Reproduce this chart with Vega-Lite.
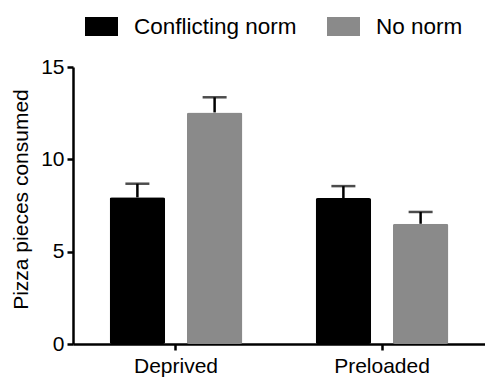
{
  "$schema": "https://vega.github.io/schema/vega-lite/v6.json",
  "autosize": {"type": "none"},
  "padding": {"left": 73, "top": 67, "right": 0, "bottom": 33},
  "width": 412,
  "height": 277,
  "background": "white",
  "config": {
    "view": {"stroke": null},
    "font": "Liberation Sans",
    "axis": {"labelFont": "Liberation Sans", "titleFont": "Liberation Sans", "grid": false, "domainColor": "black", "domainWidth": 2.5, "tickColor": "black", "tickWidth": 2.5, "tickSize": 6, "labelColor": "black", "titleColor": "black", "labelFontSize": 21, "titleFontSize": 21, "titleFontWeight": "normal"}
  },
  "data": {
    "values": [
      {"condition": "Deprived", "norm": "Conflicting norm", "value": 7.94, "upper": 8.68},
      {"condition": "Deprived", "norm": "No norm", "value": 12.54, "upper": 13.36},
      {"condition": "Preloaded", "norm": "Conflicting norm", "value": 7.9, "upper": 8.55},
      {"condition": "Preloaded", "norm": "No norm", "value": 6.51, "upper": 7.15}
    ]
  },
  "encoding": {
    "x": {
      "field": "condition", "type": "nominal",
      "scale": {"paddingInner": 0.356, "paddingOuter": 0.178},
      "axis": {"title": null, "labelAngle": 0, "labelPadding": 5}
    },
    "xOffset": {"field": "norm", "type": "nominal", "scale": {"paddingInner": 0.282, "paddingOuter": 0}}
  },
  "layer": [
    {
      "mark": {"type": "bar", "cornerRadius": 2},
      "encoding": {
        "y": {
          "field": "value", "type": "quantitative",
          "scale": {"domain": [0, 15], "nice": false},
          "axis": {"values": [0, 5, 10, 15], "title": "Pizza pieces consumed", "titlePadding": 9, "titleY": 132, "labelPadding": 3}
        },
        "color": {
          "field": "norm", "type": "nominal",
          "scale": {"domain": ["Conflicting norm", "No norm"], "range": ["#000000", "#8a8a8a"]},
          "legend": {
            "title": null, "orient": "none", "direction": "horizontal",
            "legendX": 12, "legendY": -57,
            "symbolType": "M-1,-0.58L1,-0.58L1,0.58L-1,0.58Z",
            "symbolSize": 1089, "symbolStrokeWidth": 0, "symbolOpacity": 1,
            "labelFontSize": 22.5, "labelFont": "Liberation Sans", "labelColor": "black",
            "labelOffset": 16, "columnPadding": 30, "labelLimit": 300
          }
        }
      }
    },
    {
      "mark": {"type": "rule", "color": "black", "strokeWidth": 2.5},
      "encoding": {
        "y": {"field": "value", "type": "quantitative"},
        "y2": {"field": "upper"}
      }
    },
    {
      "mark": {"type": "tick", "color": "black", "thickness": 2.5, "size": 24, "orient": "horizontal"},
      "encoding": {
        "y": {"field": "upper", "type": "quantitative"}
      }
    }
  ]
}
